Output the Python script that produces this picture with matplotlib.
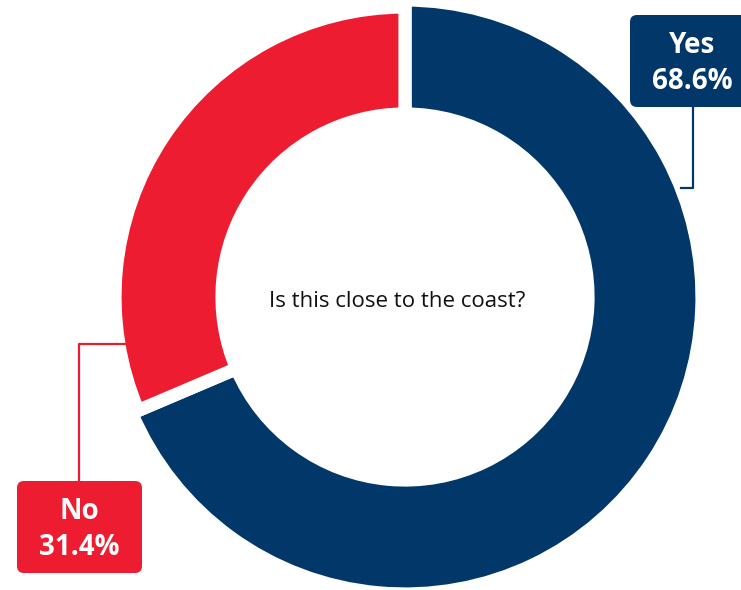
import numpy as np
import matplotlib
matplotlib.use('Agg')
import matplotlib.pyplot as plt
from matplotlib.patches import FancyBboxPatch

# datos
labels = ["Yes", "No"]
values = [68.6, 31.4]
colors = ["#02376a", "#ed1c30"]
center_text = "Is this close to the coast?"

W, H = 741, 590
plt.rcParams['font.family'] = ['Open Sans', 'DejaVu Sans']

fig = plt.figure(figsize=(W / 100, H / 100), dpi=100)
ax = fig.add_axes([0, 0, 1, 1])

cx, cy = 405, H - 297
r_out = 297
r_in = 183

wedges, _ = ax.pie(values, colors=colors, startangle=90, counterclock=False,
                   center=(cx, cy), radius=r_out, frame=True,
                   wedgeprops=dict(width=r_out - r_in, edgecolor='white', linewidth=9.5))
# el rojo un poco mas pequeño
wedges[1].set_radius(r_out - 7)
wedges[1].set_width(r_out - 7 - r_in)
ax.set_xlim(0, W)
ax.set_ylim(0, H)
ax.set_aspect('equal')
ax.axis('off')

ax.text(397, H - 307, center_text, ha='center', va='baseline', fontsize=16, color='#111111')

# cajas de etiquetas
def caja(x0, ytop, w, h, color, label, val):
    box = FancyBboxPatch((x0, H - ytop - h), w, h, boxstyle="round,pad=0,rounding_size=7",
                         facecolor=color, edgecolor='none', zorder=5)
    ax.add_patch(box)
    xm = x0 + w / 2
    ax.text(xm, H - ytop - 38, label, ha='center', va='baseline', fontsize=20,
            fontweight='bold', color='white', zorder=6)
    ax.text(xm, H - ytop - 74, f"{val:.1f}%", ha='center', va='baseline', fontsize=20,
            fontweight='bold', color='white', zorder=6)

# Yes
caja(630, 15, 125, 92, colors[0], labels[0], values[0])
ax.plot([693, 693, 681], [H - 107, H - 188, H - 188], color=colors[0], lw=1.6, zorder=4)

# No
caja(17, 481, 125, 92, colors[1], labels[1], values[1])
ax.plot([79, 79, 126], [H - 481, H - 344, H - 344], color=colors[1], lw=1.6, zorder=4)

plt.savefig("out.png", dpi=100)
